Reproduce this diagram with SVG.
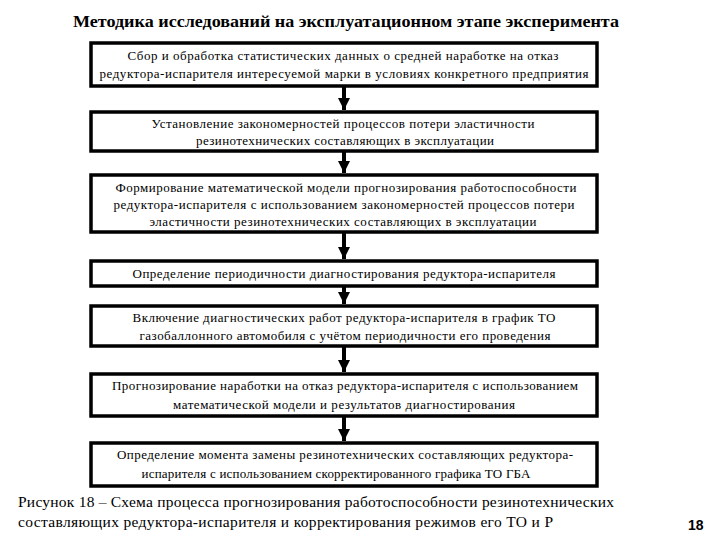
<svg xmlns="http://www.w3.org/2000/svg" width="720" height="540" viewBox="0 0 720 540">
<style>
.box{fill:#fff;stroke:#000;stroke-width:3.5}
.t{font-family:"Liberation Serif","DejaVu Serif","Times New Roman",serif;font-size:13px;fill:#000;text-anchor:middle}
.title{font-family:"Liberation Serif","DejaVu Serif","Times New Roman",serif;font-size:17px;font-weight:bold;fill:#000;text-anchor:middle}
.cap{font-family:"Liberation Serif","DejaVu Serif","Times New Roman",serif;font-size:15.5px;fill:#000}
.pg{font-family:"Liberation Sans",Arial,sans-serif;font-size:14px;font-weight:bold;fill:#000}
.c{stroke:#000;stroke-width:4;fill:none}
</style>
<defs>
<marker id="ah" markerUnits="userSpaceOnUse" markerWidth="14" markerHeight="12" refX="12" refY="6" orient="auto">
<path d="M0,0 L12,6 L0,12 Z" fill="#000"/>
</marker>
</defs>
<rect width="720" height="540" fill="#fff"/>
<text class="title" x="346" y="27" textLength="546" lengthAdjust="spacingAndGlyphs">Методика исследований на эксплуатационном этапе эксперимента</text>
<g id="connectors">
<line class="c" x1="344" y1="86" x2="344" y2="110" marker-end="url(#ah)"/>
<line class="c" x1="344" y1="151" x2="344" y2="173" marker-end="url(#ah)"/>
<line class="c" x1="344" y1="232" x2="344" y2="259" marker-end="url(#ah)"/>
<line class="c" x1="344" y1="286" x2="344" y2="304" marker-end="url(#ah)"/>
<line class="c" x1="344" y1="346" x2="344" y2="372" marker-end="url(#ah)"/>
<line class="c" x1="344" y1="416" x2="344" y2="441" marker-end="url(#ah)"/>
</g>
<g id="n1">
<rect class="box" x="91" y="43" width="506" height="43"/>
<text class="t" x="343" y="60" textLength="431" lengthAdjust="spacing">Сбор и обработка статистических данных о средней наработке на отказ</text>
<text class="t" x="344" y="78" textLength="489" lengthAdjust="spacing">редуктора-испарителя интересуемой марки в условиях конкретного предприятия</text>
</g>
<g id="n2">
<rect class="box" x="91" y="112" width="506" height="39"/>
<text class="t" x="343" y="128" textLength="383" lengthAdjust="spacing">Установление закономерностей процессов потери эластичности</text>
<text class="t" x="345" y="145" textLength="298" lengthAdjust="spacing">резинотехнических составляющих в эксплуатации</text>
</g>
<g id="n3">
<rect class="box" x="91" y="175" width="506" height="57"/>
<text class="t" x="346" y="192" textLength="461" lengthAdjust="spacing">Формирование математической модели прогнозирования работоспособности</text>
<text class="t" x="344" y="209" textLength="461" lengthAdjust="spacing">редуктора-испарителя с использованием закономерностей процессов потери</text>
<text class="t" x="343" y="226" textLength="387" lengthAdjust="spacing">эластичности резинотехнических составляющих в эксплуатации</text>
</g>
<g id="n4">
<rect class="box" x="91" y="261" width="506" height="25"/>
<text class="t" x="344" y="278" textLength="423" lengthAdjust="spacing">Определение периодичности диагностирования редуктора-испарителя</text>
</g>
<g id="n5">
<rect class="box" x="91" y="306" width="506" height="40"/>
<text class="t" x="344" y="322" textLength="423" lengthAdjust="spacing">Включение диагностических работ редуктора-испарителя в график ТО</text>
<text class="t" x="345" y="340" textLength="411" lengthAdjust="spacing">газобаллонного автомобиля с учётом периодичности его проведения</text>
</g>
<g id="n6">
<rect class="box" x="91" y="374" width="506" height="42"/>
<text class="t" x="345" y="390" textLength="466" lengthAdjust="spacing">Прогнозирование наработки на отказ редуктора-испарителя с использованием</text>
<text class="t" x="344" y="409" textLength="342" lengthAdjust="spacing">математической модели и результатов диагностирования</text>
</g>
<g id="n7">
<rect class="box" x="91" y="443" width="506" height="43"/>
<text class="t" x="345" y="459" textLength="456" lengthAdjust="spacing">Определение момента замены резинотехнических составляющих редуктора-</text>
<text class="t" x="336" y="478" textLength="389" lengthAdjust="spacing">испарителя с использованием скорректированного графика ТО ГБА</text>
</g>
<text class="cap" x="18" y="507" textLength="596" lengthAdjust="spacing">Рисунок 18 – Схема процесса прогнозирования работоспособности резинотехнических</text>
<text class="cap" x="18" y="527" textLength="535" lengthAdjust="spacing">составляющих редуктора-испарителя и корректирования режимов его ТО и Р</text>
<text class="pg" x="688" y="530">18</text>
</svg>
